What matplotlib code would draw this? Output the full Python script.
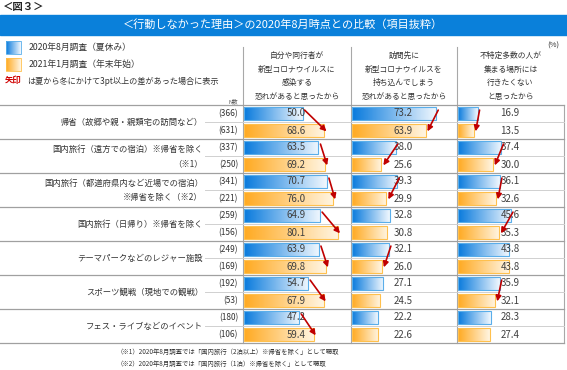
import numpy as np
import matplotlib
matplotlib.use('Agg')
import matplotlib.pyplot as plt
from matplotlib.patches import Rectangle
from matplotlib.colors import LinearSegmentedColormap
from matplotlib.transforms import blended_transform_factory

plt.rcParams['font.family'] = ['Noto Sans CJK JP', 'DejaVu Sans']

# data
categories = ['帰省（故郷や親・親類宅の訪問など）',
              '国内旅行（遠方での宿泊）※帰省を除く\n（※1）',
              '国内旅行（都道府県内など近場での宿泊）\n※帰省を除く（※2）',
              '国内旅行（日帰り）※帰省を除く',
              'テーマパークなどのレジャー施設',
              'スポーツ観戦（現地での観戦）',
              'フェス・ライブなどのイベント']
n_aug = [366, 337, 341, 259, 249, 192, 180]
n_jan = [631, 250, 221, 156, 169, 53, 106]
columns = [['自分や同行者が', '新型コロナウイルスに', '感染する', '恐れがあると思ったから'],
           ['訪問先に', '新型コロナウイルスを', '持ち込んでしまう', '恐れがあると思ったから'],
           ['不特定多数の人が', '集まる場所には', '行きたくない', 'と思ったから']]
aug_vals = [[50.0, 63.5, 70.7, 64.9, 63.9, 54.7, 47.2],
            [73.2, 38.0, 39.3, 32.8, 32.1, 27.1, 22.2],
            [16.9, 37.4, 36.1, 45.6, 43.8, 35.9, 28.3]]
jan_vals = [[68.6, 69.2, 76.0, 80.1, 69.8, 67.9, 59.4],
            [63.9, 25.6, 29.9, 30.8, 26.0, 24.5, 22.6],
            [13.5, 30.0, 32.6, 35.3, 43.8, 32.1, 27.4]]
legend_labels = ['2020年8月調査（夏休み）', '2021年1月調査（年末年始）']

W, H = 567, 370
fig = plt.figure(figsize=(W / 100, H / 100), dpi=100)
bg = fig.add_axes([0, 0, 1, 1])
bg.set_xlim(0, W)
bg.set_ylim(H, 0)
bg.axis('off')

blue_cmap = LinearSegmentedColormap.from_list('b', ['#0A7BDD', '#F0F7FE'])
orange_cmap = LinearSegmentedColormap.from_list('o', ['#FFAA22', '#FFF5E2'])
grad = np.linspace(0, 1, 64).reshape(1, -1)

# title
bg.text(3, 7, '＜図３＞', fontsize=7.5, fontweight='bold', va='center', color='#222222')
bg.add_patch(Rectangle((0, 15), W, 20, color='#0A80DA'))
bg.text(283, 25, '＜行動しなかった理由＞の2020年8月時点との比較（項目抜粋）',
        fontsize=8, color='white', ha='center', va='center')

# legend
for i, (lab, cm) in enumerate(zip(legend_labels, [blue_cmap, orange_cmap])):
    y0 = 41 + i * 17
    bg.imshow(grad, cmap=cm, extent=[6, 21, y0 + 13, y0], aspect='auto')
    bg.add_patch(Rectangle((6, y0), 15, 13, fill=False,
                           ec=['#5AAEEA', '#FFC04D'][i], lw=0.6))
    bg.text(29, y0 + 6.5, lab, fontsize=6.3, va='center', color='#333333')
bg.text(5, 81, '矢印', fontsize=6, color='#D00000', va='center', fontweight='bold')
bg.text(27, 81, 'は夏から冬にかけて3pt以上の差があった場合に表示', fontsize=5.9,
        va='center', color='#333333')
bg.set_xlim(0, W)
bg.set_ylim(H, 0)

# grid layout
top, row_h = 105, 17
col_edges = [243, 351, 457, 564]
bottom = top + row_h * 14
for x in col_edges[:3]:
    bg.plot([x, x], [47, bottom], color='#A8A8A8', lw=0.8)
bg.plot([564, 564], [top, bottom], color='#A8A8A8', lw=0.8)
for g in range(8):
    y = top + g * 2 * row_h
    bg.plot([0, 564], [y, y], color='#A0A0A0', lw=0.9)
for g in range(7):
    y = top + (2 * g + 1) * row_h
    bg.plot([205, 564], [y, y], color='#D0D0D0', lw=0.7)

for c, lines in enumerate(columns):
    cx = (col_edges[c] + col_edges[c + 1]) / 2
    for k, line in enumerate(lines):
        bg.text(cx, 56 + k * 13.5, line, fontsize=5.6, ha='center', va='center',
                color='#333333')
bg.text(553, 46, '(%)', fontsize=5.5, ha='center', va='center', color='#333333')
bg.text(238, 101, 'N数', fontsize=4, ha='right', va='center', color='#555555')

# panels
panels = []
for c in range(3):
    x0, x1 = col_edges[c], col_edges[c + 1]
    ax = fig.add_axes([x0 / W, 1 - bottom / H, (x1 - x0) / W, (bottom - top) / H])
    ax.patch.set_alpha(0)
    ax.axis('off')
    panels.append(ax)

rows = np.arange(7)
for c, ax in enumerate(panels):
    ya = rows * 2
    yj = rows * 2 + 1
    ba = ax.barh(ya, aug_vals[c], height=0.76, left=0.8, color='none',
                 edgecolor='#5AAEEA', lw=0.8, zorder=3)
    bj = ax.barh(yj, jan_vals[c], height=0.76, left=0.8, color='none',
                 edgecolor='#FFC04D', lw=0.8, zorder=3)
    for bars, cm in [(ba, blue_cmap), (bj, orange_cmap)]:
        for b in bars:
            x, y, w, h = b.get_x(), b.get_y(), b.get_width(), b.get_height()
            im = ax.imshow(grad, cmap=cm, extent=[x, x + w, y + h, y],
                           aspect='auto', zorder=2)
            im.set_clip_path(b)
    for i in rows:
        ax.text(45.5, ya[i], f'{aug_vals[c][i]:.1f}', fontsize=7, ha='center',
                va='center', color='#404040', zorder=4)
        ax.text(45.5, yj[i], f'{jan_vals[c][i]:.1f}', fontsize=7, ha='center',
                va='center', color='#404040', zorder=4)
        a, j = aug_vals[c][i], jan_vals[c][i]
        if abs(j - a) >= 3:
            ax.annotate('', xy=(j + 2.5, yj[i] + 0.05), xytext=(a + 2.5, ya[i] - 0.2),
                        arrowprops=dict(arrowstyle='-|>', color='#C00000', lw=1.2,
                                        mutation_scale=8, shrinkA=0, shrinkB=0),
                        zorder=5)
    ax.set_xlim(0, 92)
    ax.set_ylim(13.5, -0.5)

# category labels and N
tr = blended_transform_factory(bg.transData, panels[0].transData)
for g, cat in enumerate(categories):
    if '\n' in cat:
        l1, l2 = cat.split('\n')
        panels[0].text(203, 2 * g + 0.1, l1, transform=tr, fontsize=6, ha='right',
                       va='center', color='#333333')
        panels[0].text(203, 2 * g + 0.95, l2, transform=tr, fontsize=6, ha='right',
                       va='center', color='#333333')
    else:
        panels[0].text(203, 2 * g + 0.5, cat, transform=tr, fontsize=6, ha='right',
                       va='center', color='#333333')
    panels[0].text(238, 2 * g, f'({n_aug[g]})', transform=tr, fontsize=6,
                   ha='right', va='center', color='#333333')
    panels[0].text(238, 2 * g + 1, f'({n_jan[g]})', transform=tr, fontsize=6,
                   ha='right', va='center', color='#333333')

# footnotes
bg.text(117, 352, '（※1）2020年8月調査では「国内旅行（2泊以上）※帰省を除く」として聴取',
        fontsize=4.6, va='center', color='#333333')
bg.text(117, 364, '（※2）2020年8月調査では「国内旅行（1泊）※帰省を除く」として聴取',
        fontsize=4.6, va='center', color='#333333')

fig.savefig('out.png', dpi=100)
